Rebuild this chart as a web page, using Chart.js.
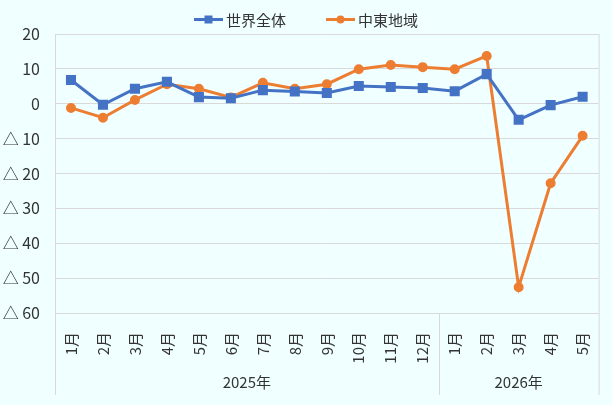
<!DOCTYPE html>
<html>
<head>
<meta charset="utf-8">
<script src="https://cdn.jsdelivr.net/npm/chart.js@4/dist/chart.umd.min.js"></script>
<style>
  html, body { margin: 0; padding: 0; background: #F0FFFF; }
  #wrap { position: relative; width: 612px; height: 405px; }
  #legend {
    position: absolute; top: 8px; left: 0; width: 612px;
    display: flex; justify-content: center; gap: 40px;
    font-family: "Noto Sans CJK JP", sans-serif; font-size: 15px; color: #333;
  }
  .item { display: flex; align-items: center; gap: 3px; height: 22px; }
</style>
</head>
<body>
<div id="wrap">
  <canvas id="trend" width="612" height="405"></canvas>
  <div id="legend"></div>
</div>
<script>
    // Data (month-on-month change, %)
    const months = ['1月', '2月', '3月', '4月', '5月', '6月', '7月', '8月', '9月', '10月', '11月', '12月',
                    '1月', '2月', '3月', '4月', '5月'];
    const years = ['2025年', '2026年'];
    const yearSpans = [12, 5];

    const worldValues = [6.8, -0.3, 4.3, 6.3, 1.9, 1.6, 3.9, 3.5, 3.1, 5.1, 4.8, 4.5, 3.6, 8.5, -4.6, -0.4, 2.0];
    const mideastValues = [-1.2, -4.0, 1.1, 5.6, 4.3, 1.8, 6.0, 4.3, 5.6, 9.9, 11.1, 10.5, 9.9, 13.7, -52.6, -22.8, -9.2];

    const seriesNames = ['世界全体', '中東地域'];
    const BLUE = '#4472C4';
    const ORANGE = '#ED7D31';
    const GRID = '#D9D9D9';
    const FONT = '"Noto Sans CJK JP", sans-serif';

    // Year groups under the month labels, plus separators
    const yearGroups = {
      id: 'yearGroups',
      afterDraw(c) {
        const x = c.scales.x;
        const area = c.chartArea;
        const ctx = c.ctx;
        const bottom = c.height - 10;
        const half = (x.getPixelForValue(1) - x.getPixelForValue(0)) / 2;
        ctx.save();
        ctx.strokeStyle = GRID;
        ctx.lineWidth = 1;
        // right border of the plot
        ctx.beginPath();
        ctx.moveTo(area.right + 0.5, area.top);
        ctx.lineTo(area.right + 0.5, bottom);
        ctx.moveTo(area.left + 0.5, area.bottom);
        ctx.lineTo(area.left + 0.5, bottom);
        ctx.stroke();
        ctx.fillStyle = '#333';
        ctx.font = '15px ' + FONT;
        ctx.textAlign = 'center';
        ctx.textBaseline = 'middle';
        let start = 0;
        years.forEach((yr, i) => {
          const end = start + yearSpans[i] - 1;
          const x0 = x.getPixelForValue(start) - half;
          const x1 = x.getPixelForValue(end) + half;
          ctx.fillText(yr, (x0 + x1) / 2, 382);
          if (i < years.length - 1) {
            ctx.beginPath();
            ctx.moveTo(Math.round(x1) + 0.5, area.bottom);
            ctx.lineTo(Math.round(x1) + 0.5, bottom);
            ctx.stroke();
          }
          start = end + 1;
        });
        ctx.restore();
      }
    };

    function buildLegend() {
      const legend = document.getElementById('legend');
      const marks = [
        `<rect x="10.5" y="2.5" width="8" height="8" fill="${BLUE}"/>`,
        `<circle cx="14.5" cy="6.5" r="4" fill="${ORANGE}"/>`
      ];
      const colors = [BLUE, ORANGE];
      seriesNames.forEach((name, i) => {
        legend.innerHTML += `
          <div class="item">
            <svg width="29" height="13"><line x1="0" y1="6.5" x2="29" y2="6.5" stroke="${colors[i]}" stroke-width="3"/>${marks[i]}</svg>
            <span>${name}</span>
          </div>`;
      });
    }

    function initChart() {
      const ctx = document.getElementById('trend').getContext('2d');
      new Chart(ctx, {
        type: 'line',
        data: {
          labels: months,
          datasets: [{
            label: seriesNames[0],
            data: worldValues,
            borderColor: BLUE,
            backgroundColor: BLUE,
            borderWidth: 3,
            pointStyle: 'rect',
            pointRadius: 5,
            pointHoverRadius: 5,
            tension: 0
          }, {
            label: seriesNames[1],
            data: mideastValues,
            borderColor: ORANGE,
            backgroundColor: ORANGE,
            borderWidth: 3,
            pointStyle: 'circle',
            pointRadius: 3.5,
            pointHoverRadius: 3.5,
            tension: 0
          }]
        },
        options: {
          responsive: false,
          animation: false,
          layout: { padding: { top: 34, right: 13, left: 0, bottom: 0 } },
          plugins: {
            legend: { display: false },
            tooltip: { enabled: false }
          },
          scales: {
            x: {
              offset: true,
              afterFit: (s) => { s.height = 92; },
              grid: { display: false, offset: true },
              border: { display: true, color: GRID },
              ticks: {
                color: '#333',
                font: { family: FONT, size: 15 },
                minRotation: 90,
                maxRotation: 90,
                autoSkip: false,
                padding: 11
              }
            },
            y: {
              min: -60,
              max: 20,
              afterFit: (s) => { s.width = 55; },
              grid: { color: GRID, drawTicks: false },
              border: { display: true, color: GRID },
              ticks: {
                stepSize: 10,
                color: '#333',
                padding: 15,
                font: { family: FONT, size: 16 },
                callback: (v) => v < 0 ? '△ ' + (-v) : String(v)
              }
            }
          }
        },
        plugins: [yearGroups]
      });
    }

    document.addEventListener('DOMContentLoaded', function() {
      buildLegend();
      initChart();
    });
</script>
</body>
</html>
